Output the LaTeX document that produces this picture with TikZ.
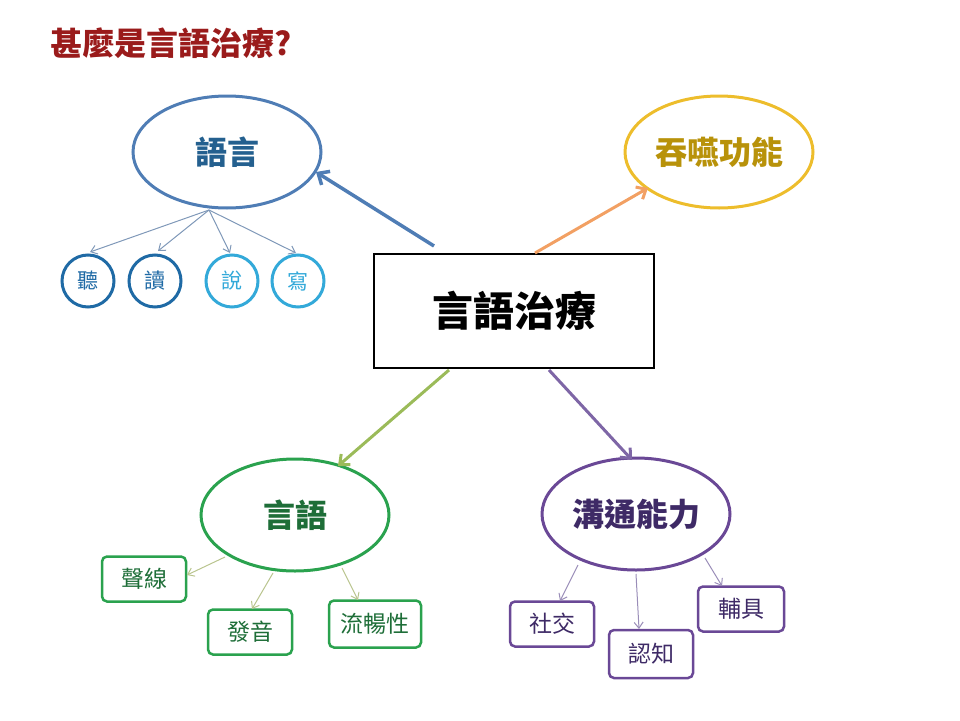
\documentclass[tikz,border=0pt]{standalone}
\usepackage{fontspec}
\newfontfamily\cjk{Noto Sans CJK TC}
\usetikzlibrary{shapes.geometric,arrows.meta}
\definecolor{titlered}{HTML}{9A1B1B}
\definecolor{lblue}{HTML}{4F7DB5}
\definecolor{lbluetext}{HTML}{24608F}
\definecolor{dblue}{HTML}{1F6AA5}
\definecolor{cyanb}{HTML}{33A9D9}
\definecolor{thinblue}{HTML}{7F98B8}
\definecolor{orangea}{HTML}{F2A063}
\definecolor{goldb}{HTML}{EDBD2C}
\definecolor{goldt}{HTML}{B8920A}
\definecolor{greena}{HTML}{9BBB59}
\definecolor{greenb}{HTML}{2AA24E}
\definecolor{greent}{HTML}{1E6E38}
\definecolor{thingreen}{HTML}{B9C48E}
\definecolor{purplea}{HTML}{7E66A6}
\definecolor{purpleb}{HTML}{6A4896}
\definecolor{purplet}{HTML}{3E2A66}
\definecolor{thinpurple}{HTML}{9A8DB8}
\tikzset{
  bigell/.style={ellipse, draw, line width=3pt, minimum width=188pt, minimum height=112pt, inner sep=0pt, font=\cjk\bfseries\fontsize{32}{36}\selectfont},
  smallcirc/.style={circle, draw, line width=3pt, minimum size=52pt, inner sep=0pt, font=\cjk\fontsize{21}{24}\selectfont},
  leafbox/.style={rectangle, rounded corners=5pt, draw, line width=2.5pt, minimum width=84pt, minimum height=45pt, inner sep=0pt, font=\cjk\fontsize{23}{26}\selectfont},
  bigarrow/.style={line width=3.5pt, -{Straight Barb[length=9pt,width=16pt]}},
  midarrow/.style={line width=3pt, -{Straight Barb[length=8pt,width=14pt]}},
  thinarrow/.style={line width=1pt, -{Straight Barb[length=6pt,width=9pt]}}
}
\begin{document}
\begin{tikzpicture}[x=1pt,y=-1pt]
\useasboundingbox (0,0) rectangle (960,720);
% title
\node[anchor=west, text=titlered, font=\cjk\bfseries\fontsize{32}{36}\selectfont, inner sep=0pt] (title) at (50,43) {甚麼是言語治療?};
% main box
\node[rectangle, draw=black, line width=2.5pt, minimum width=280pt, minimum height=114pt, inner sep=0pt, font=\cjk\bfseries\fontsize{41}{46}\selectfont] (main) at (514,311) {言語治療};
% top ellipses
\node[bigell, draw=lblue, text=lbluetext] (yuyan) at (227,152) {語言};
\node[bigell, draw=goldb, text=goldt] (tunyan) at (719,152) {吞嚥功能};
% bottom ellipses
\node[bigell, draw=greenb, text=greent] (yanyu) at (295,515) {言語};
\node[bigell, draw=purpleb, text=purplet] (goutong) at (636,514) {溝通能力};
% circles
\node[smallcirc, draw=dblue, text=dblue] (ting) at (88,281) {聽};
\node[smallcirc, draw=dblue, text=dblue] (du) at (155,281) {讀};
\node[smallcirc, draw=cyanb, text=cyanb] (shuo) at (232,281) {說};
\node[smallcirc, draw=cyanb, text=cyanb] (xie) at (298,281) {寫};
% green boxes
\node[leafbox, draw=greenb, text=greent] (shengxian) at (144,579) {聲線};
\node[leafbox, draw=greenb, text=greent] (fayin) at (250,632) {發音};
\node[leafbox, draw=greenb, text=greent, minimum width=92pt, minimum height=47pt] (liuchang) at (375,624) {流暢性};
% purple boxes
\node[leafbox, draw=purpleb, text=purplet] (shejiao) at (552,624) {社交};
\node[leafbox, draw=purpleb, text=purplet, minimum height=48pt] (renzhi) at (651,654) {認知};
\node[leafbox, draw=purpleb, text=purplet, minimum width=86pt] (fuju) at (741,609) {輔具};
% coordinates for connector ends
\coordinate (bA) at (434,246);
\coordinate (bB) at (316,172);
\coordinate (oA) at (535,253);
\coordinate (oB) at (648,188);
\coordinate (gA) at (449,370);
\coordinate (gB) at (338,466);
\coordinate (pA) at (549,370);
\coordinate (pB) at (632,460);
\coordinate (yb) at (209,210);
\coordinate (tingT) at (90,252);
\coordinate (duT) at (158,251);
\coordinate (shuoT) at (230,253);
\coordinate (xieT) at (296,253);
\coordinate (g1a) at (225,557);
\coordinate (g1b) at (187,575);
\coordinate (g2a) at (273,573);
\coordinate (g2b) at (252,609);
\coordinate (g3a) at (342,568);
\coordinate (g3b) at (358,600);
\coordinate (p1a) at (578,565);
\coordinate (p1b) at (560,601);
\coordinate (p2a) at (636,574);
\coordinate (p2b) at (639,629);
\coordinate (p3a) at (705,558);
\coordinate (p3b) at (722,586);
% main arrows
\draw[bigarrow, draw=lblue] (bA) -- (bB);
\draw[midarrow, draw=orangea] (oA) -- (oB);
\draw[midarrow, draw=greena] (gA) -- (gB);
\draw[midarrow, draw=purplea] (pA) -- (pB);
% thin arrows from 語言
\draw[thinarrow, draw=thinblue] (yb) -- (tingT);
\draw[thinarrow, draw=thinblue] (yb) -- (duT);
\draw[thinarrow, draw=thinblue] (yb) -- (shuoT);
\draw[thinarrow, draw=thinblue] (yb) -- (xieT);
% thin arrows from 言語
\draw[thinarrow, draw=thingreen] (g1a) -- (g1b);
\draw[thinarrow, draw=thingreen] (g2a) -- (g2b);
\draw[thinarrow, draw=thingreen] (g3a) -- (g3b);
% thin arrows from 溝通能力
\draw[thinarrow, draw=thinpurple] (p1a) -- (p1b);
\draw[thinarrow, draw=thinpurple] (p2a) -- (p2b);
\draw[thinarrow, draw=thinpurple] (p3a) -- (p3b);
\end{tikzpicture}
\end{document}
